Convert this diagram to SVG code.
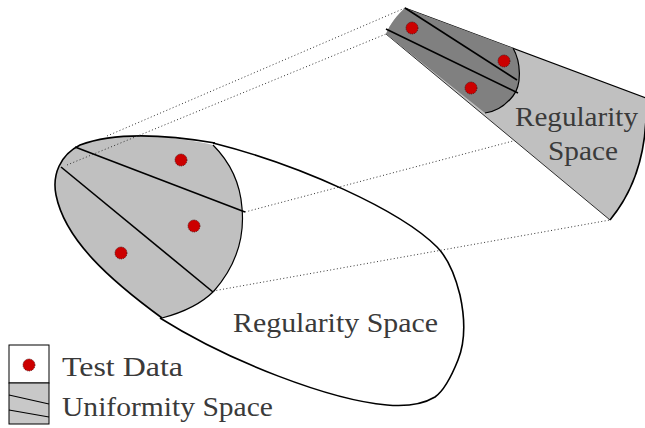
<svg xmlns="http://www.w3.org/2000/svg" width="645" height="428" viewBox="0 0 645 428">
<style>
.outline{fill:none;stroke:#000;stroke-width:1.6;stroke-linejoin:round}
.thin{fill:none;stroke:#000;stroke-width:1.2}
.div{fill:none;stroke:#000;stroke-width:1.6}
.light{fill:#c0c0c0}
.dark{fill:#808080}
.dot{fill:#cc0000;stroke:#400;stroke-width:0.8;stroke-dasharray:1 1}
.conn{fill:none;stroke:#333;stroke-width:1;stroke-dasharray:1 2.4}
.lbl{font-family:"Liberation Serif","DejaVu Serif",serif;font-size:27px;fill:#3a3a3a}
</style>
<rect width="645" height="428" fill="#fff"/>

<g id="regularity-space-large">
<path d="M 160 318 C 230 362, 330 400, 387 405 C 410 407, 425 403, 435 397 C 445 390, 452 375, 458 360 C 466 340, 465 318, 460 295 C 455 275, 448 258, 437 247 C 400 210, 300 165, 213 143" fill="#fff" class="outline"/>
<text class="lbl" x="233" y="332" textLength="205" lengthAdjust="spacingAndGlyphs">Regularity Space</text>
</g>

<g id="uniformity-space-large">
<path d="M 213 145 C 180 137, 120 130, 80 145 C 60 155, 52 175, 56 195 C 65 240, 110 280, 162 318 C 185 312, 203 302, 214 291 C 234 268, 245 240, 242 208 C 240 180, 228 160, 213 145 Z" class="light"/>
<path d="M 162 318 C 110 280, 65 240, 56 195 C 52 175, 60 155, 80 145 C 120 130, 180 137, 215 143" class="outline"/>
<path d="M 162 318 C 185 312, 203 302, 214 291 C 234 268, 245 240, 242 208 C 240 180, 228 160, 213 145" class="thin"/>
<line x1="75" y1="147" x2="245" y2="212" class="div"/>
<line x1="61" y1="167" x2="213" y2="292" class="div"/>
</g>

<g id="regularity-space-cone">
<path d="M 405 8 L 646 98 C 648 150, 635 190, 610 220 L 386 34 C 390 24, 398 14, 405 8 Z" class="light"/>
<line x1="405" y1="8" x2="646" y2="98" class="thin"/>
<line x1="386" y1="34" x2="610" y2="220" stroke="#000" stroke-width="0.8"/>
<path d="M 646 98 C 648 150, 635 190, 610 220" class="outline"/>
<text class="lbl" x="515" y="126" textLength="123" lengthAdjust="spacingAndGlyphs">Regularity</text>
<text class="lbl" x="548" y="160" textLength="70" lengthAdjust="spacingAndGlyphs">Space</text>
</g>

<g id="uniformity-space-cone">
<path d="M 405 8 L 513 48 C 521 62, 522 85, 513 96 C 505 106, 495 112, 485 113 L 386 34 C 390 24, 398 14, 405 8 Z" class="dark"/>
<path d="M 513 48 C 521 62, 522 85, 513 96 C 505 106, 495 112, 485 113" class="thin"/>
<line x1="405" y1="8" x2="517" y2="80" class="div"/>
<line x1="386" y1="29" x2="518" y2="93" class="div"/>
</g>

<g id="connectors">
<line x1="107" y1="136" x2="405" y2="8" class="conn"/>
<line x1="67" y1="165" x2="386" y2="34" class="conn"/>
<line x1="245" y1="212" x2="513" y2="141" class="conn"/>
<line x1="213" y1="291" x2="610" y2="220" class="conn"/>
</g>

<g id="test-data">
<circle cx="181" cy="160" r="6" class="dot"/>
<circle cx="194" cy="226" r="6" class="dot"/>
<circle cx="121" cy="253" r="6" class="dot"/>
<circle cx="412" cy="28" r="6" class="dot"/>
<circle cx="504" cy="61" r="6" class="dot"/>
<circle cx="471" cy="88" r="6" class="dot"/>
</g>

<g id="legend">
<rect x="9" y="345" width="40" height="38" fill="#fff" stroke="#000" stroke-width="1"/>
<circle cx="29" cy="365" r="6" class="dot"/>
<rect x="9" y="383" width="40" height="41" fill="#c8c8c8" stroke="#000" stroke-width="1"/>
<line x1="9" y1="395" x2="49" y2="404" stroke="#000" stroke-width="1.2"/>
<line x1="9" y1="410" x2="49" y2="417" stroke="#000" stroke-width="1.2"/>
<text class="lbl" x="62" y="376" textLength="121" lengthAdjust="spacingAndGlyphs">Test Data</text>
<text class="lbl" x="62" y="416" textLength="211" lengthAdjust="spacingAndGlyphs">Uniformity Space</text>
</g>
</svg>
